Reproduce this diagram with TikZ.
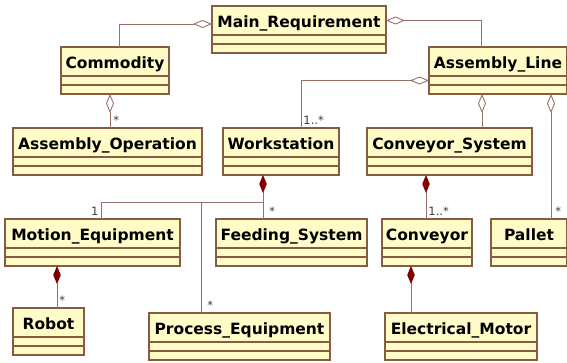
\documentclass[tikz,border=0pt]{standalone}
\usepackage{fontspec}
\setsansfont{DejaVu Sans}
\usetikzlibrary{arrows.meta}
\definecolor{umlfill}{RGB}{255,252,200}
\definecolor{umlborder}{RGB}{134,92,68}
\definecolor{umlline}{RGB}{150,112,106}
\definecolor{umldiamond}{RGB}{128,0,0}
\definecolor{umltext}{RGB}{60,60,60}
\tikzset{
  classtitle/.style={draw=umlborder, fill=umlfill, line width=1.1pt, inner sep=0pt, outer sep=0pt,
    minimum height=29pt, text height=15pt, text depth=1.7pt,
    font=\sffamily\bfseries\fontsize{15.5}{18}\selectfont},
  classpart/.style={draw=umlborder, fill=umlfill, line width=1.1pt, inner sep=0pt, outer sep=0pt,
    minimum height=9pt},
  link/.style={draw=umlline, line width=0.9pt},
  agg/.style={link, {Diamond[open, length=19pt, width=8pt]}-},
  comp/.style={link, {Diamond[length=18pt, width=7.5pt, fill=umldiamond, color=umldiamond]}-},
  mult/.style={font=\sffamily\fontsize{11.5}{13}\selectfont, text=umltext, inner sep=2pt, yshift=1.5pt}
}
\newcommand{\umlclass}[4]{%
  \node[classtitle, minimum width=#3, anchor=north west] (#1) at (#2) {#4};
  \node[classpart, minimum width=#3, anchor=north] (#1-a) at (#1.south) {};
  \node[classpart, minimum width=#3, anchor=north] (#1-b) at (#1-a.south) {};
}

\begin{document}
\begin{tikzpicture}[x=1pt, y=-1pt]
\useasboundingbox (0,0) rectangle (567,362);
\umlclass{Main}{212,6}{174pt}{Main\_Requirement}
\umlclass{Commodity}{61,47}{108pt}{Commodity}
\umlclass{AsmLine}{429,47}{138pt}{Assembly\_Line}
\umlclass{AsmOp}{13,128}{189pt}{Assembly\_Operation}
\umlclass{Workstation}{223,128}{116pt}{Workstation}
\umlclass{ConvSys}{367,128}{165pt}{Conveyor\_System}
\umlclass{MotionEq}{5,219}{175pt}{Motion\_Equipment}
\umlclass{Feeding}{216,219}{151pt}{Feeding\_System}
\umlclass{Conveyor}{382,219}{90pt}{Conveyor}
\umlclass{Pallet}{491,219}{76pt}{Pallet}
\umlclass{Robot}{13,308}{71pt}{Robot}
\umlclass{ProcessEq}{149,313}{181pt}{Process\_Equipment}
\umlclass{ElecMotor}{385,313}{152pt}{Electrical\_Motor}

\draw[agg] ([yshift=-3.5pt]Main.west) -| (Commodity.north -| 119,0);
\draw[agg] (Main.east) -| (AsmLine.north -| 481,0);
\draw[agg] (Commodity-b.south -| 110,0) -- (AsmOp.north -| 110,0) node[mult, anchor=south west, xshift=1pt] {*};
\draw[agg] (AsmLine-a.west) -| (Workstation.north -| 301,0) node[mult, anchor=south west] {1..*};
\draw[agg] (AsmLine-b.south -| 482,0) -- (ConvSys.north -| 482,0);
\draw[agg] (AsmLine-b.south -| 551,0) -- (Pallet.north -| 551,0) node[mult, anchor=south west, xshift=2pt] {*};

\draw[comp] (Workstation-b.south -| 263,0) -- (Feeding.north -| 263,0) node[mult, anchor=south west, xshift=4pt] {*};
\coordinate (wsjoin) at (263,202);
\draw[link] (wsjoin) -| (MotionEq.north -| 101,0) node[mult, anchor=south east] {1};
\draw[link] (wsjoin -| 201,0) -- (ProcessEq.north -| 201,0) node[mult, anchor=south west, xshift=4pt] {*};
\draw[comp] (ConvSys-b.south -| 426,0) -- (Conveyor.north -| 426,0) node[mult, anchor=south west] {1..*};
\draw[comp] (MotionEq-b.south -| 57,0) -- (Robot.north -| 57,0) node[mult, anchor=south west] {*};
\draw[comp] (Conveyor-b.south -| 411,0) -- (ElecMotor.north -| 411,0);
\end{tikzpicture}
\end{document}
